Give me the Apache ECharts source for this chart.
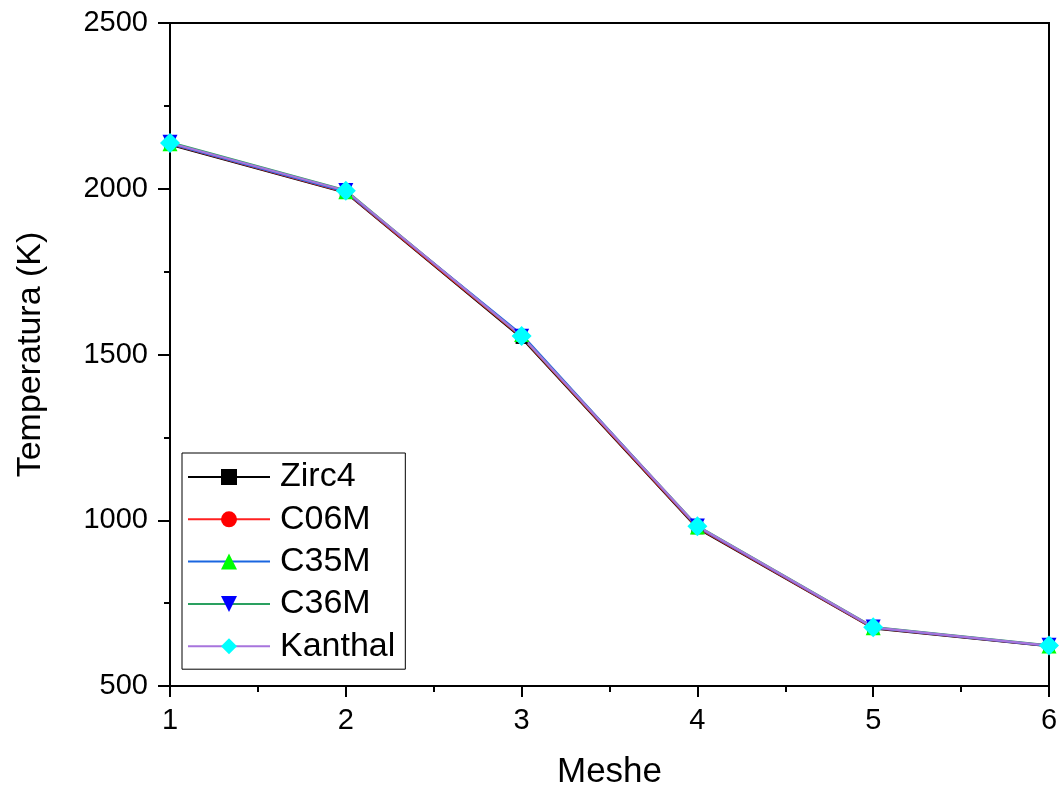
<!DOCTYPE html>
<html>
<head>
<meta charset="utf-8">
<script src="https://cdn.jsdelivr.net/npm/echarts@6/dist/echarts.min.js"></script>
<style>
  html, body { margin: 0; padding: 0; background: #fff; }
  #chart { width: 1059px; height: 787px; }
</style>
</head>
<body>
<div id="chart"></div>
<script>
// Mesh index along the rod
const meshes = [1, 2, 3, 4, 5, 6];

// Temperature (K) per mesh for each cladding material
const zirc4   = [2133, 1988, 1550, 976, 674, 620];
const c06m    = [2135, 1990, 1553, 978, 675, 621];
const c35m    = [2136, 1991, 1560, 980, 676, 621];
const c36m    = [2140, 1995, 1555, 983, 678, 623];
const kanthal = [2138, 1994, 1556, 982, 677, 622];

const FONT = '"Liberation Sans", Arial, sans-serif';

function pairs(vals) {
  return meshes.map((m, i) => [m, vals[i]]);
}

function makeSeries(name, vals, lineColor, symbol, symbolColor, symbolSize) {
  return {
    name: name,
    type: 'line',
    data: pairs(vals),
    symbol: symbol,
    symbolSize: symbolSize,
    showAllSymbol: true,
    lineStyle: { color: lineColor, width: 2.2 },
    itemStyle: { color: symbolColor, borderWidth: 0 },
    emphasis: { disabled: true },
    animation: false
  };
}

const chart = echarts.init(document.getElementById('chart'), null, { renderer: 'canvas' });

chart.setOption({
  backgroundColor: '#fff',
  animation: false,
  grid: {
    left: 170, right: 10, top: 23, bottom: 101,
    outerBoundsMode: 'none',
    containLabel: false,
    show: true, borderColor: '#000', borderWidth: 2, backgroundColor: 'transparent'
  },
  legend: {
    left: 182, top: 453,
    orient: 'vertical',
    itemWidth: 82, itemHeight: 20, itemGap: 8.3,
    padding: [7, 10, 6, 5],
    borderColor: '#000', borderWidth: 1,
    backgroundColor: '#fff',
    textStyle: { fontFamily: FONT, fontSize: 34, lineHeight: 34, color: '#000', padding: [0, 0, 0, 5] },
    data: ['Zirc4', 'C06M', 'C35M', 'C36M', 'Kanthal']
  },
  xAxis: {
    type: 'value',
    min: 1, max: 6, interval: 1,
    name: 'Meshe',
    nameLocation: 'middle',
    nameGap: 69,
    nameTextStyle: { fontFamily: FONT, fontSize: 35, color: '#000' },
    axisLine: { onZero: false, lineStyle: { color: '#000', width: 2 } },
    axisTick: { show: true, length: 11, lineStyle: { color: '#000', width: 2 } },
    minorTick: { show: true, splitNumber: 2, length: 6, lineStyle: { color: '#000', width: 2 } },
    axisLabel: { fontFamily: FONT, fontSize: 29, color: '#000', margin: 20 },
    splitLine: { show: false }
  },
  yAxis: {
    type: 'value',
    min: 500, max: 2500, interval: 500,
    name: 'Temperatura (K)',
    nameLocation: 'middle',
    nameGap: 122,
    nameTextStyle: { fontFamily: FONT, fontSize: 34, color: '#000' },
    axisLine: { onZero: false, lineStyle: { color: '#000', width: 2 } },
    axisTick: { show: true, length: 12, lineStyle: { color: '#000', width: 2 } },
    minorTick: { show: true, splitNumber: 2, length: 6, lineStyle: { color: '#000', width: 2 } },
    axisLabel: {
      fontFamily: FONT, fontSize: 29, color: '#000', margin: 22,
      formatter: (v) => String(v)
    },
    splitLine: { show: false }
  },
  series: [
    makeSeries('Zirc4',   zirc4,   '#000000', 'rect',     '#000000', 12),
    makeSeries('C06M',    c06m,    '#ff2020', 'circle',   '#ff0000', 13),
    makeSeries('C35M',    c35m,    '#1a66e0', 'triangle', '#00ff00', 15),
    makeSeries('C36M',    c36m,    '#2aa060', 'path://M0,0 L10,0 L5,10 Z', '#0000ff', 15),
    makeSeries('Kanthal', kanthal, '#a774dd', 'diamond',  '#00ffff', 20)
  ]
});
</script>
</body>
</html>
